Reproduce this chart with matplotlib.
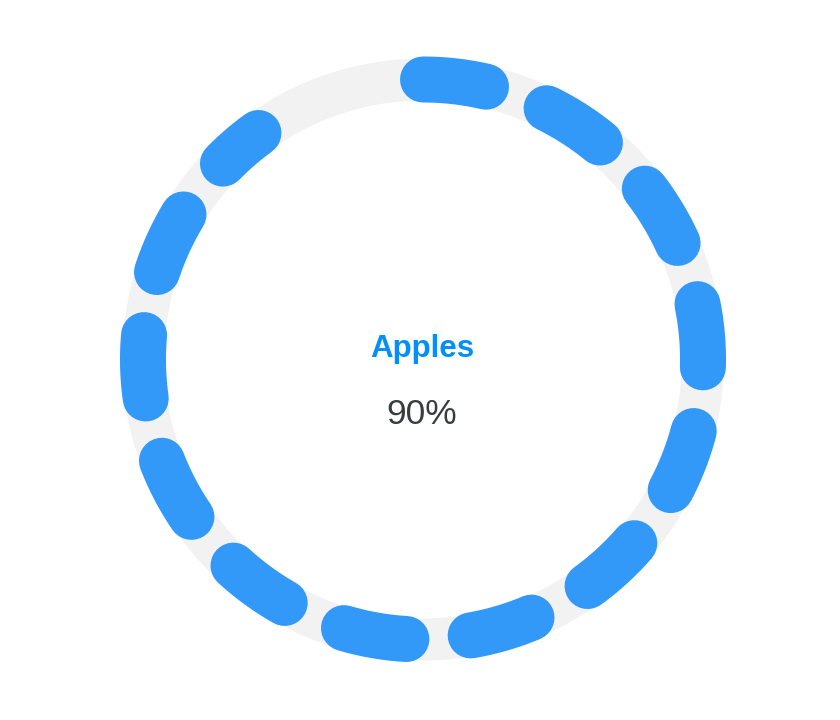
import numpy as np
import matplotlib.pyplot as plt
from matplotlib.patches import Wedge

# data
label = "Apples"
value = 90  # percent

# dash pattern along the bar (degrees of arc, like an svg dasharray)
dash_deg = 13.0
gap_deg = 13.2

W, H = 840, 720
cx, cy = 423, 359.5
r_mid = 280
track_w = 42
bar_w_px = 46

fig = plt.figure(figsize=(W / 100, H / 100), dpi=100)
ax = fig.add_axes([0, 0, 1, 1])
ax.set_xlim(0, W)
ax.set_ylim(H, 0)
ax.set_aspect('equal')
ax.axis('off')

# gray track
track = Wedge((cx, cy), r_mid + track_w / 2, 0, 360, width=track_w,
              facecolor='#f2f2f2', edgecolor='none')
ax.add_patch(track)

# dashed value bar, clockwise from 12 o'clock
end = 360 * value / 100
lw = bar_w_px * 72 / 100
start = 0.0
while start < end:
    stop = min(start + dash_deg, end)
    a = np.radians(np.linspace(start, stop, 60))
    x = cx + r_mid * np.sin(a)
    y = cy - r_mid * np.cos(a)
    ax.plot(x, y, color='#3399f8', linewidth=lw, solid_capstyle='round')
    start += dash_deg + gap_deg

ax.text(cx - 1, 357, label, ha='center', va='baseline', fontsize=22.5,
        fontweight='bold', color='#008ffb', family='Liberation Sans')
ax.text(cx - 1, 424, f"{value}%", ha='center', va='baseline', fontsize=25.5,
        color='#373d3f', family='Liberation Sans')

fig.savefig('out.png', dpi=100, facecolor='white')
